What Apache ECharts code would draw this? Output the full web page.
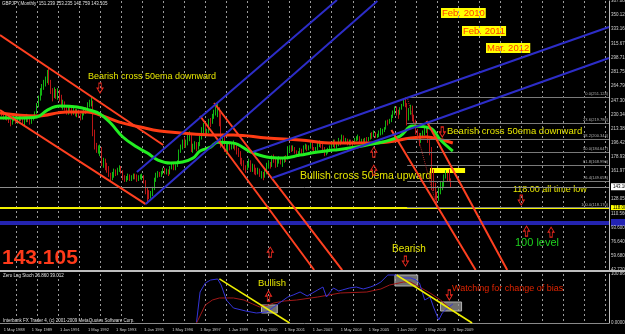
<!DOCTYPE html>
<html>
<head>
<meta charset="utf-8">
<title>GBPJPY Monthly</title>
<script src="https://cdn.jsdelivr.net/npm/echarts@6/dist/echarts.min.js"></script>
<style>
  html, body { margin: 0; padding: 0; background: #000; }
  #main { width: 625px; height: 334px; }
</style>
</head>
<body>
<div id="main"></div>
<script>
// ---- data ----
// monthly bars Apr 1988 .. Sep 2009, open = previous close
const firstOpen = 232;
const closes = [
  233,230,226,229,226,222,219,224,226,
  221,224,227,225,222,223,228,224,221,225,227,232,
  241,249,255,263,268,270,280,270,259,254,258,253,
  258,252,241,243,239,233,238,236,232,236,231,234,
  229,226,231,236,234,243,244,246,209,192,187,189,
  190,171,174,171,166,158,154,158,161,160,163,166,
  162,155,152,153,156,153,154,157,156,152,155,155,
  156,150,140,135,133,135,141,152,158,159,158,160,
  164,160,163,159,166,170,165,168,173,186,190,198,
  194,196,203,206,190,190,194,191,194,202,212,215,
  208,209,223,220,227,231,236,237,229,195,203,188,
  191,193,192,193,196,191,186,184,174,173,166,165,
  169,174,164,169,163,160,164,157,159,158,162,170,
  170,169,178,177,168,175,176,172,175,178,177,190,
  190,189,189,185,183,183,187,185,191,193,190,191,
  197,190,187,189,194,196,194,189,184,186,187,191,
  193,196,191,195,199,197,204,198,199,195,198,197,
  195,201,202,203,198,199,197,201,200,201,206,203,
  209,204,205,209,211,211,213,222,221,223,229,233,
  236,233,232,237,241,247,242,232,235,239,229,222,
  211,207,198,206,209,211,214,198,189,160,146,132,
  130,140,141,146,155,158,156,151.239,143.105
];
const highs = [
  236,235,232,232,231,228,224,228,230,
  228,227,230,229,227,228,231,230,227,228,230,234,
  244,253,262,267,272,276,284,287,272,262,263,261,
  262,260,254,248,246,241,240,241,238,239,237,237,
  236,231,233,238,239,245,248,251,247,212,196,193,
  194,191,178,177,172,168,160,161,165,164,166,169,
  168,163,157,156,159,158,157,159,159,158,157,158,
  159,157,151,142,139,138,143,154,160,162,161,162,
  166,166,165,164,168,171,171,170,175,188,194,200,
  203,200,206,210,207,195,198,197,197,205,215,220,
  218,213,225,226,231,236,240,244,239,232,207,205,
  195,197,197,197,199,197,193,190,186,178,175,169,
  172,177,175,171,170,166,166,165,162,161,164,172,
  175,173,181,182,178,177,180,178,177,180,181,192,
  193,193,193,191,187,186,190,189,193,195,194,193,
  199,197,191,191,196,199,198,196,191,188,190,193,
  197,200,200,197,202,200,206,205,202,201,200,200,
  199,202,204,206,204,201,201,202,203,203,208,209,
  211,209,207,211,214,213,215,223,224,225,230,235,
  240,240,236,239,243,249,251,244,238,242,241,230,
  224,213,208,208,211,214,216,215,200,191,164,148,
  137,143,149,150,158,163,160,164,153.235
];
const lows = [
  229,228,224,224,223,220,216,218,222,
  219,219,222,222,218,217,221,221,218,219,223,225,
  231,239,247,253,260,264,268,266,255,246,250,249,
  248,246,238,236,235,230,230,232,229,230,228,227,
  226,223,224,229,231,233,239,240,204,188,184,183,
  180,168,166,163,160,155,150,151,154,156,157,161,
  159,151,149,149,151,150,150,152,152,149,150,152,
  151,147,134,123,128,129,132,139,149,154,155,155,
  158,158,158,156,158,164,163,163,167,172,184,188,
  190,190,193,198,185,184,188,186,188,192,200,207,
  204,204,208,215,219,225,229,227,216,190,192,185,
  182,185,187,188,189,187,182,179,170,168,163,160,
  163,166,161,161,158,157,158,155,153,151,154,158,
  165,165,167,172,166,167,171,170,167,172,173,176,
  184,185,186,183,180,179,180,182,184,188,186,187,
  189,187,184,184,187,191,190,186,180,181,183,185,
  189,191,189,189,192,193,196,196,196,193,193,193,
  192,194,198,199,196,195,194,195,197,198,200,201,
  203,202,202,203,205,206,209,212,217,219,221,226,
  230,229,225,230,236,240,239,217,223,230,222,219,
  206,200,192,196,202,205,208,196,181,139,138,127,
  118.8,126,134,139,143,153,149,149,142.759
];

// moving averages: [month index, price]
const fastMA = [[0,225.9],[11,225.9],[21,227.1],[27,235.6],[34,240.4],[44,239.2],[51,235.6],[57,230.8],
  [63,219.9],[70,203.1],[78,190.9],[84,183.7],[90,175.3],[97,171.7],[104,172.9],[110,177.7],[114,186.1],
  [120,190.9],[124,196.9],[133,195.7],[143,184.9],[152,178.9],[161,177.7],[171,181.3],[181,184.9],
  [190,187.3],[199,189.7],[209,193.4],[218,197.0],[228,204.2],[235,216.3],[245,213.9],[251,199.4],[258,186.1]];
const slowMA = [[0,232.0],[21,228.4],[38,233.2],[50,233.2],[57,229.6],[68,221.1],[80,215.1],[91,210.3],
  [103,207.9],[120,205.5],[133,205.5],[152,201.8],[171,199.4],[190,195.8],[209,195.8],[221,197.0],
  [234,201.8],[243,203.0],[252,199.4],[258,195.8]];

// drawn trend lines: [[month, price], [month, price]]
const redLines = [
  [[0,326.1],[93,193.4]], [[0,235.6],[83,122.2]],
  [[114,228.4],[179,42.7]], [[122,244.1],[195,42.7]],
  [[223,211.5],[271,42.7]], [[243,222.3],[289,42.7]]
];
const blueLines = [
  [[83,122.2],[215,367.1]], [[78,160.8],[192,368.3]],
  [[144,185.0],[347,335.7]], [[155,153.6],[347,298.3]]
];
const fibLink = [[232,251.1],[249,118.2]];
const fibLevels = [251.124, 219.786, 200.344, 184.647, 168.990, 149.655, 118.170];
const fibNames = ['0.0', '23.6', '38.2', '50.0', '61.8', '76.4', '100.0'];
const bidPrice = 143.105;
const lowLevel = 118;
const hundredLevel = 100;
const zoneBox = [[245,165.6],[265,159.6]];
const arrowsDown = [[57,262.1],[252,209.1],[297,127.0],[231,53.4]];
const arrowsUp = [[213,184.9],[213,163.2],[154,64.3],[300,89.7],[314,88.4]];

// zero lag stoch, traced
const stochMain = [[112,2.1],[114,63.8],[117,82.3],[120,88.5],[124,90.6],[126,78.2],[129,47.3],[133,30.9],
  [140,24.7],[146,20.6],[152,22.6],[156,32.9],[160,43.2],[164,53.5],[167,57.6],[171,63.8],[175,55.6],
  [178,61.8],[181,67.9],[184,74.1],[186,53.5],[190,72.0],[193,65.9],[195,67.9],[199,72.0],[203,74.1],
  [207,70.0],[211,74.1],[214,78.2],[217,84.4],[221,98.8],[224,98.8],[226,98.8],[230,92.6],[234,92.6],
  [237,88.5],[239,82.3],[242,47.3],[245,53.5],[247,32.9],[250,6.2],[252,20.6],[255,30.9],[258,39.0]];
const stochSignal = [[112,0],[117,37.1],[121,47.3],[125,51.5],[133,51.5],[139,47.3],[144,39.1],[148,32.9],
  [153,37.1],[156,41.2],[162,45.3],[169,47.3],[181,53.5],[194,61.8],[209,63.8],[217,70.0],[222,78.2],
  [230,84.4],[234,84.4],[239,74.1],[245,61.8],[251,47.3],[255,35.0],[258,26.9]];
const stochBoxes = [[[149,37.1],[158,20.6]], [[225,98.8],[238,76.2]], [[251,43.2],[263,24.7]]];
const stochLines = [[[125,90.6],[165,0]], [[226,98.8],[269,0]]];
const stochUp = [[153,55.6]];
const stochDown = [[256,57.6]];

// axis labels
const priceTicks = [367.08, 350.12, 333.16, 315.67, 298.71, 281.75, 264.79, 247.3, 230.34, 213.38,
  196.42, 178.93, 161.97, 143.105, 128.05, 118, 110.56, 100, 93.6, 76.64, 59.68, 42.72];
const dateTicks = ['1 May 1988','1 Sep 1989','1 Jan 1991','1 May 1992','1 Sep 1993','1 Jan 1995',
  '1 May 1996','1 Sep 1997','1 Jan 1999','1 May 2000','1 Sep 2001','1 Jan 2003','1 May 2004',
  '1 Sep 2005','1 Jan 2007','1 May 2008','1 Sep 2009'];

// month categories from Apr 1988, chart shifted into the future
const monthNames = ['Jan','Feb','Mar','Apr','May','Jun','Jul','Aug','Sep','Oct','Nov','Dec'];
const cats = [];
for (let k = 0; k < 348; k++) {
  cats.push('1 ' + monthNames[(3 + k) % 12] + ' ' + (1988 + Math.floor((3 + k) / 12)));
}

const bars = closes.map((c, k) => [k ? closes[k - 1] : firstOpen, c, lows[k], highs[k]]);

const downPath = 'path://M3,0L7,0L7,6L10,6L5,12L0,6L3,6Z';
const upPath = 'path://M5,0L10,6L7,6L7,12L3,12L3,6L0,6Z';
const arrowStyle = { color: 'rgba(0,0,0,0)', borderColor: '#e8281e', borderWidth: 1 };

function arrowMarks(ups, downs) {
  return {
    silent: true, animation: false, label: { show: false },
    itemStyle: arrowStyle,
    data: ups.map(p => ({ coord: p, symbol: upPath, symbolSize: [6, 10] }))
      .concat(downs.map(p => ({ coord: p, symbol: downPath, symbolSize: [6, 10] })))
  };
}

function trend(pts, color, width, type, xi, yi) {
  return {
    type: 'line', xAxisIndex: xi || 0, yAxisIndex: yi || 0, data: pts,
    symbol: 'none', silent: true, z: 5,
    lineStyle: { color: color, width: width, type: type || 'solid' }
  };
}

const gridDash = { show: true, interval: (i, v) => v.indexOf('1 Jan') === 0,
  lineStyle: { color: '#9a9a9a', width: 1, type: [2, 3] } };

const fibMarks = fibLevels.map((lv, i) => [
  { coord: [232, lv], lineStyle: { color: '#7a7a7a', width: 1, type: 'solid' },
    label: { show: true, position: 'insideEndTop', distance: 1, formatter: fibNames[i] + '(' + lv.toFixed(3) + ')',
      color: '#b0b0b0', fontSize: 4, fontFamily: 'Liberation Sans' } },
  { coord: [347, lv] }
]);

let myChart = echarts.init(document.getElementById('main'));

let option = {
  backgroundColor: '#000000',
  animation: false,
  textStyle: { fontFamily: 'Liberation Sans' },
  grid: [
    { left: 0, right: 16, top: 1, height: 269, containLabel: false, outerBoundsMode: 'none' },
    { left: 0, right: 16, top: 274, height: 49, containLabel: false, outerBoundsMode: 'none' }
  ],
  xAxis: [
    { type: 'category', gridIndex: 0, data: cats, boundaryGap: false,
      axisLine: { show: false }, axisTick: { show: false }, axisLabel: { show: false },
      splitLine: gridDash },
    { type: 'category', gridIndex: 1, data: cats, boundaryGap: false,
      axisLine: { show: true, lineStyle: { color: '#8a8a8a' } }, axisTick: { show: false },
      axisLabel: { interval: (i, v) => dateTicks.indexOf(v) >= 0, align: 'left', margin: 5,
        color: '#d0d0d0', fontSize: 4, padding: [0, 0, 0, 2] },
      splitLine: gridDash }
  ],
  yAxis: [
    { type: 'value', gridIndex: 0, position: 'right', min: 42.72, max: 367.08, scale: true,
      axisLine: { show: true, lineStyle: { color: '#c0c0c0' } }, axisTick: { show: false },
      splitLine: { show: false },
      axisLabel: { customValues: priceTicks, margin: 2, color: '#d0d0d0', fontSize: 4.5,
        formatter: v => {
          const s = v.toFixed(3);
          if (Math.abs(v - bidPrice) < 1e-6) return '{bid|' + s + '}';
          if (v === lowLevel) return '{low|' + s + '}';
          if (v === hundredLevel) return '{hund|' + s + '}';
          return s;
        },
        rich: {
          bid: { backgroundColor: '#ffffff', color: '#000', fontSize: 4.5, padding: [1, 2] },
          low: { backgroundColor: '#ffff00', color: '#000', fontSize: 4.5, padding: [0, 2] },
          hund: { backgroundColor: '#2323b4', color: '#2323b4', fontSize: 4.5, padding: [1, 2] }
        } } },
    { type: 'value', gridIndex: 1, position: 'right', min: 0, max: 100.865,
      axisLine: { show: true, lineStyle: { color: '#c0c0c0' } }, axisTick: { show: false },
      splitLine: { show: false },
      axisLabel: { customValues: [0, 100.865], margin: 2, color: '#d0d0d0', fontSize: 4.5,
        formatter: v => v === 0 ? '0.0000' : '100.865' } }
  ],
  series: [
    {
      type: 'candlestick', xAxisIndex: 0, yAxisIndex: 0, data: bars, barWidth: 0.2, z: 2,
      itemStyle: { color: '#12b412', color0: '#b81616', borderColor: '#12b412', borderColor0: '#b81616', borderWidth: 1 },
      markLine: {
        silent: true, animation: false, symbol: 'none', label: { show: false },
        data: [
          { yAxis: bidPrice, lineStyle: { color: '#8c8c8c', width: 1, type: 'solid' } },
          { yAxis: lowLevel, lineStyle: { color: '#f0f000', width: 2, type: 'solid' } },
          { yAxis: hundredLevel, lineStyle: { color: '#2424b0', width: 4, type: 'solid' } }
        ].concat(fibMarks)
      },
      markArea: {
        silent: true, animation: false, itemStyle: { color: '#ffff00' },
        data: [[{ coord: zoneBox[0] }, { coord: zoneBox[1] }]]
      },
      markPoint: arrowMarks(arrowsUp, arrowsDown)
    },
    { type: 'line', xAxisIndex: 0, yAxisIndex: 0, data: slowMA, smooth: 0.4, symbol: 'none', z: 3,
      lineStyle: { color: '#ff3c14', width: 3 } },
    { type: 'line', xAxisIndex: 0, yAxisIndex: 0, data: fastMA, smooth: 0.4, symbol: 'none', z: 3,
      lineStyle: { color: '#22ee22', width: 3 } },
    trend(fibLink, '#b02a2a', 1, 'dotted')
  ]
  .concat(redLines.map(l => trend(l, '#ff4020', 2)))
  .concat(blueLines.map(l => trend(l, '#2d2dc8', 2)))
  .concat([
    { type: 'line', xAxisIndex: 1, yAxisIndex: 1, data: stochSignal, symbol: 'none', z: 3,
      lineStyle: { color: '#a01818', width: 1 } },
    { type: 'line', xAxisIndex: 1, yAxisIndex: 1, data: stochMain, symbol: 'none', z: 4,
      lineStyle: { color: '#3434d8', width: 1 },
      markArea: {
        silent: true, animation: false,
        itemStyle: { color: 'rgba(150,150,150,0.75)', borderColor: '#b0b0b0', borderWidth: 1 },
        data: stochBoxes.map(b => [{ coord: b[0] }, { coord: b[1] }])
      },
      markPoint: arrowMarks(stochUp, stochDown) }
  ])
  .concat(stochLines.map(l => trend(l, '#f0f000', 1.5, 'solid', 1, 1))),
  graphic: [
    { type: 'line', shape: { x1: 0, y1: 271, x2: 625, y2: 271 }, style: { stroke: '#bdbdbd', lineWidth: 2 }, z: 10 },
    { type: 'text', left: 2, top: 1, style: { text: 'GBPJPY,Monthly  151.239 153.235 142.759 143.105', fill: '#e0e0e0', font: '4.5px "Liberation Sans"' } },
    { type: 'text', left: 3, top: 273, style: { text: 'Zero Lag Stoch 26.860 39.012', fill: '#e0e0e0', font: '4.5px "Liberation Sans"' } },
    { type: 'text', left: 3, top: 318, style: { text: 'Interbank FX Trader 4, (c) 2001-2009 MetaQuotes Software Corp.', fill: '#e0e0e0', font: '4.5px "Liberation Sans"' } },
    { type: 'text', left: 2, top: 248, style: { text: '143.105', fill: '#ff3a1a', font: 'bold 21px "Liberation Sans"' } },
    { type: 'text', left: 88, top: 72, style: { text: 'Bearish cross 50ema downward', fill: '#e6e600', font: '9px "Liberation Sans"' } },
    { type: 'text', left: 300, top: 171, style: { text: 'Bullish cross 50ema upward', fill: '#e6e600', font: '10.5px "Liberation Sans"' } },
    { type: 'text', left: 447, top: 126, style: { text: 'Bearish cross 50ema downward', fill: '#e6e600', font: '9.5px "Liberation Sans"' } },
    { type: 'text', left: 513, top: 185, style: { text: '118.00 all time low', fill: '#e6e600', font: '9px "Liberation Sans"' } },
    { type: 'text', left: 515, top: 237, style: { text: '100 level', fill: '#1ed21e', font: '11px "Liberation Sans"' } },
    { type: 'text', left: 258, top: 278, style: { text: 'Bullish', fill: '#e6e600', font: '9.5px "Liberation Sans"' } },
    { type: 'text', left: 392, top: 244, style: { text: 'Bearish', fill: '#e6e600', font: '10px "Liberation Sans"' } },
    { type: 'text', left: 452, top: 284, style: { text: 'Watching for change of bias', fill: '#e02400', font: '9px "Liberation Sans"' } },
    { type: 'text', left: 441, top: 8, style: { text: 'Feb. 2010', fill: '#ff3c00', backgroundColor: '#ffff00', padding: [0, 1], font: '9.5px "Liberation Sans"' } },
    { type: 'text', left: 462, top: 26, style: { text: 'Feb. 2011', fill: '#ff3c00', backgroundColor: '#ffff00', padding: [0, 1], font: '9.5px "Liberation Sans"' } },
    { type: 'text', left: 486, top: 43, style: { text: 'Mar. 2012', fill: '#ff3c00', backgroundColor: '#ffff00', padding: [0, 1], font: '9.5px "Liberation Sans"' } }
  ]
};
myChart.setOption(option);
</script>
</body>
</html>
